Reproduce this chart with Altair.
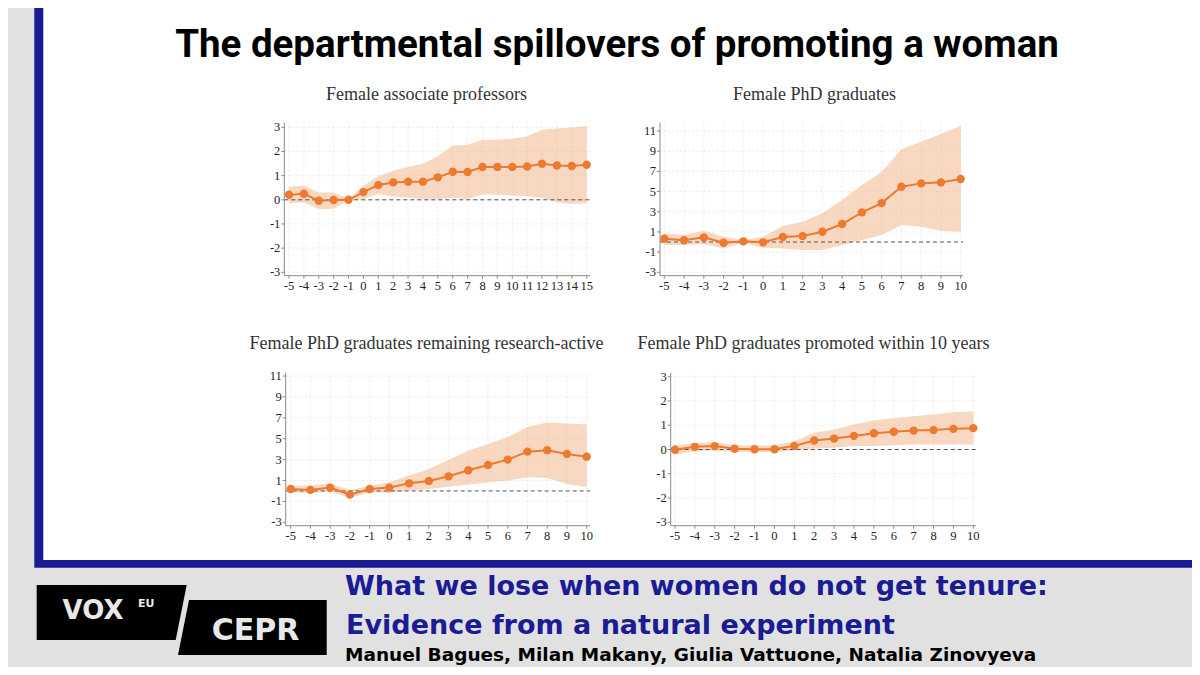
import altair as alt
import pandas as pd

# ---------------- data ----------------
years_15 = list(range(-5, 16))
years_10 = list(range(-5, 11))

# Panel 1: Female associate professors
p1_est = [0.21, 0.25, -0.04, -0.01, 0.0, 0.32, 0.61, 0.72, 0.75, 0.75, 0.93,
          1.16, 1.15, 1.36, 1.36, 1.36, 1.38, 1.49, 1.42, 1.40, 1.45]
p1_hi = [0.55, 0.58, 0.30, 0.30, 0.03, 0.58, 0.97, 1.20, 1.36, 1.49, 1.80,
         2.25, 2.28, 2.49, 2.49, 2.53, 2.63, 2.90, 2.95, 2.99, 3.04]
p1_lo = [-0.14, -0.10, -0.39, -0.37, -0.03, 0.04, 0.25, 0.14, 0.08, 0.04, 0.03,
         0.08, 0.04, 0.22, 0.22, 0.18, 0.15, 0.08, -0.10, -0.17, -0.14]

# Panel 2: Female PhD graduates
p2_est = [0.33, 0.17, 0.46, -0.07, 0.07, -0.03, 0.50, 0.59, 1.02, 1.78, 2.94,
          3.86, 5.48, 5.81, 5.91, 6.24]
p2_hi = [0.86, 0.70, 1.12, 0.53, 0.20, 0.53, 1.58, 2.01, 2.84, 4.16, 5.64,
         6.97, 9.18, 9.94, 10.70, 11.50]
p2_lo = [-0.30, -0.30, -0.23, -0.63, -0.07, -0.56, -0.63, -0.79, -0.79, -0.30, 0.20,
         0.69, 1.68, 1.52, 1.12, 1.02]

# Panel 3: Female PhD graduates remaining research-active
p3_est = [0.19, 0.10, 0.32, -0.35, 0.19, 0.32, 0.73, 0.96, 1.40, 1.98, 2.49,
          3.00, 3.76, 3.89, 3.54, 3.28]
p3_hi = [0.51, 0.51, 0.73, 0.10, 0.48, 0.83, 1.47, 2.10, 2.97, 3.86, 4.50,
         5.13, 6.15, 6.54, 6.46, 6.35]
p3_lo = [-0.13, -0.19, -0.06, -0.67, -0.13, -0.19, 0.03, 0.19, 0.41, 0.61, 0.83,
         0.99, 1.31, 1.24, 0.67, 0.35]

# Panel 4: Female PhD graduates promoted within 10 years
p4_est = [-0.01, 0.11, 0.14, 0.03, 0.01, 0.01, 0.15, 0.37, 0.45, 0.56, 0.67,
          0.73, 0.78, 0.80, 0.85, 0.88]
p4_hi = [0.18, 0.27, 0.30, 0.18, 0.16, 0.16, 0.34, 0.69, 0.82, 1.03, 1.20,
         1.30, 1.37, 1.44, 1.54, 1.58]
p4_lo = [-0.21, -0.07, -0.04, -0.10, -0.10, -0.10, -0.04, 0.04, 0.07, 0.14, 0.14,
         0.18, 0.21, 0.21, 0.21, 0.21]

yticks_small = [-3, -2, -1, 0, 1, 2, 3]
yticks_large = [-3, -1, 1, 3, 5, 7, 9, 11]

panel_titles = ["Female associate professors", "Female PhD graduates",
                "Female PhD graduates remaining research-active",
                "Female PhD graduates promoted within 10 years"]

main_title = "The departmental spillovers of promoting a woman"
footer_1 = "What we lose when women do not get tenure:"
footer_2 = "Evidence from a natural experiment"
footer_3 = "Manuel Bagues, Milan Makany, Giulia Vattuone, Natalia Zinovyeva"

# ---------------- styles / layout ----------------
OFF = 8  # page margin
ORANGE = "#ec7a30"
BAND = "#f4b183"
GRID = "#e6e6e6"
AXIS = "#8a8a8a"
SERIF = "Liberation Serif"
BLUE = "#1b1b94"
BG = "#e1e1e1"

one = pd.DataFrame({"k": [0]})


def build_panel(title, t, est, lo, hi, yticks, xpix, ypix, box, title_pos):
    x0, x1 = t[0], t[-1]
    y0, y1 = min(yticks), max(yticks)
    xs = alt.Scale(domain=[x0, x1], range=[xpix[0] - OFF, xpix[1] - OFF], nice=False, zero=False)
    ys = alt.Scale(domain=[y0, y1], range=[ypix[0] - OFF, ypix[1] - OFF], nice=False, zero=False)

    def xinv(p):
        return x0 + (p - xpix[0]) * (x1 - x0) / (xpix[1] - xpix[0])

    def yinv(p):
        return y0 + (p - ypix[0]) * (y1 - y0) / (ypix[1] - ypix[0])

    left, right, bottom, top = box
    xl, xr = xinv(left), xinv(right)
    yb, ytop = yinv(bottom), yinv(top)

    df = pd.DataFrame({"t": t, "est": est, "lo": lo, "hi": hi})
    xt = pd.DataFrame({"v": t, "lab": [str(v) for v in t]})
    yt = pd.DataFrame({"v": yticks, "lab": [str(v) for v in yticks]})

    def X(f):
        return alt.X(f, type="quantitative", scale=xs, axis=None)

    def Y(f):
        return alt.Y(f, type="quantitative", scale=ys, axis=None)

    gridv = alt.Chart(xt).mark_rule(color=GRID, strokeDash=[2, 2], strokeWidth=0.8).encode(
        x=X("v"), y=alt.datum(yb), y2=alt.datum(ytop))
    gridh = alt.Chart(yt).mark_rule(color=GRID, strokeDash=[2, 2], strokeWidth=0.8).encode(
        y=Y("v"), x=alt.datum(xl), x2=alt.datum(xr))
    band = alt.Chart(df).mark_area(color=BAND, opacity=0.5).encode(
        x=X("t"), y=Y("lo"), y2="hi")
    zero = alt.Chart(one).mark_rule(color="#555555", strokeDash=[4, 3], strokeWidth=1).encode(
        y=alt.datum(0), x=alt.datum(xl), x2=alt.datum(xr))
    yaxis = alt.Chart(one).mark_rule(color=AXIS, strokeWidth=1).encode(
        x=alt.datum(xl), y=alt.datum(yb), y2=alt.datum(ytop))
    xaxis = alt.Chart(one).mark_rule(color=AXIS, strokeWidth=1).encode(
        y=alt.datum(yb), x=alt.datum(xl), x2=alt.datum(xr))
    xticks_m = alt.Chart(xt).mark_rule(color=AXIS, strokeWidth=1, y2Offset=3).encode(
        x=X("v"), y=alt.datum(yb), y2=alt.datum(yb))
    yticks_m = alt.Chart(yt).mark_rule(color=AXIS, strokeWidth=1, x2Offset=-3).encode(
        y=Y("v"), x=alt.datum(xl), x2=alt.datum(xl))
    line = alt.Chart(df).mark_line(color=ORANGE, strokeWidth=2).encode(x=X("t"), y=Y("est"))
    pts = alt.Chart(df).mark_circle(color=ORANGE, size=70, opacity=1).encode(x=X("t"), y=Y("est"))
    xlab = alt.Chart(xt).mark_text(font=SERIF, fontSize=12.5, color="#222222",
                                   baseline="top", dy=4).encode(
        x=X("v"), y=alt.datum(yb), text="lab:N")
    ylab = alt.Chart(yt).mark_text(font=SERIF, fontSize=12.5, color="#222222",
                                   align="right", baseline="middle", dx=-4).encode(
        y=Y("v"), x=alt.datum(xl), text="lab:N")
    ttl = alt.Chart(one).mark_text(text=title, font=SERIF, fontSize=18, color="#333333",
                                   align="center", baseline="alphabetic").encode(
        x=alt.value(title_pos[0] - OFF), y=alt.value(title_pos[1] - OFF))
    return alt.layer(gridv, gridh, band, zero, yaxis, xaxis, xticks_m, yticks_m,
                     line, pts, xlab, ylab, ttl)


panel1 = build_panel(panel_titles[0], years_15, p1_est, p1_lo, p1_hi, yticks_small,
                     (289, 586.7), (272.3, 127.3), (284.3, 590, 275.7, 122.7), (426.5, 99.5))
panel2 = build_panel(panel_titles[1], years_10, p2_est, p2_lo, p2_hi, yticks_large,
                     (664.3, 960.7), (272.3, 131), (660, 963, 275.7, 122.7), (814.5, 99.5))
panel3 = build_panel(panel_titles[2], years_10, p3_est, p3_lo, p3_hi, yticks_large,
                     (290.7, 586.7), (522.3, 376), (285.7, 590, 525.7, 372.7), (426.5, 348.5))
panel4 = build_panel(panel_titles[3], years_10, p4_est, p4_lo, p4_hi, yticks_small,
                     (675, 973.3), (522.3, 376.7), (670.7, 976, 525.7, 372.7), (813.5, 348.5))

# ---------------- decorations ----------------
blue_box = alt.Chart(one).mark_rect(color=BLUE).encode(
    x=alt.value(34.3 - OFF), x2=alt.value(1210), y=alt.value(-20), y2=alt.value(567.7 - OFF))
white_box = alt.Chart(one).mark_rect(color="white").encode(
    x=alt.value(43.3 - OFF), x2=alt.value(1210), y=alt.value(-20), y2=alt.value(560 - OFF))

title_mark = alt.Chart(one).mark_text(text=main_title, font="Roboto", fontWeight="bold",
                                      fontSize=38.5, color="black", align="center",
                                      baseline="alphabetic").encode(
    x=alt.value(617 - OFF), y=alt.value(57 - OFF))

f1 = alt.Chart(one).mark_text(text=footer_1, font="DejaVu Sans", fontWeight="bold", fontSize=27,
                              color=BLUE, align="left", baseline="alphabetic").encode(
    x=alt.value(345 - OFF), y=alt.value(595 - OFF))
f2 = alt.Chart(one).mark_text(text=footer_2, font="DejaVu Sans", fontWeight="bold", fontSize=27,
                              color=BLUE, align="left", baseline="alphabetic").encode(
    x=alt.value(346 - OFF), y=alt.value(634.3 - OFF))
f3 = alt.Chart(one).mark_text(text=footer_3, font="DejaVu Sans", fontWeight="bold", fontSize=18.5,
                              color="black", align="left", baseline="alphabetic").encode(
    x=alt.value(345 - OFF), y=alt.value(661 - OFF))

vox_shape = "M-1,-0.3667L1,-0.3667L0.8533,0.3667L-1,0.3667Z"
cepr_shape = "M-0.852,-0.37L1,-0.37L1,0.37L-1,0.37Z"
vox_box = alt.Chart(one).mark_point(shape=vox_shape, filled=True, size=22500, color="black",
                                    opacity=1, strokeWidth=0).encode(
    x=alt.value(111.7 - OFF), y=alt.value(612.5 - OFF))
cepr_box = alt.Chart(one).mark_point(shape=cepr_shape, filled=True, size=22112, color="black",
                                     opacity=1, strokeWidth=0).encode(
    x=alt.value(252.35 - OFF), y=alt.value(627.5 - OFF))
vox_txt = alt.Chart(one).mark_text(text="VOX", font="DejaVu Sans", fontWeight="bold", fontSize=26,
                                   color="#e8e8e8", align="center", baseline="alphabetic").encode(
    x=alt.value(93 - OFF), y=alt.value(619 - OFF))
eu_txt = alt.Chart(one).mark_text(text="EU", font="DejaVu Sans", fontWeight="bold", fontSize=11,
                                  color="#e8e8e8", align="left", baseline="alphabetic").encode(
    x=alt.value(138 - OFF), y=alt.value(606.7 - OFF))
cepr_txt = alt.Chart(one).mark_text(text="CEPR", font="DejaVu Sans", fontWeight="bold", fontSize=30,
                                    color="#e8e8e8", align="center", baseline="alphabetic").encode(
    x=alt.value(255.5 - OFF), y=alt.value(640 - OFF))

chart = alt.layer(
    blue_box, white_box, panel1, panel2, panel3, panel4, title_mark,
    f1, f2, f3, vox_box, cepr_box, vox_txt, eu_txt, cepr_txt
).resolve_scale(x="independent", y="independent").properties(
    width=1184, height=659, padding=0, background=BG,
    autosize=alt.AutoSizeParams(type="none")
).configure_view(strokeWidth=0).configure_axis(disable=True)

chart.save("out.html", embed_options={"renderer": "svg", "actions": False})
